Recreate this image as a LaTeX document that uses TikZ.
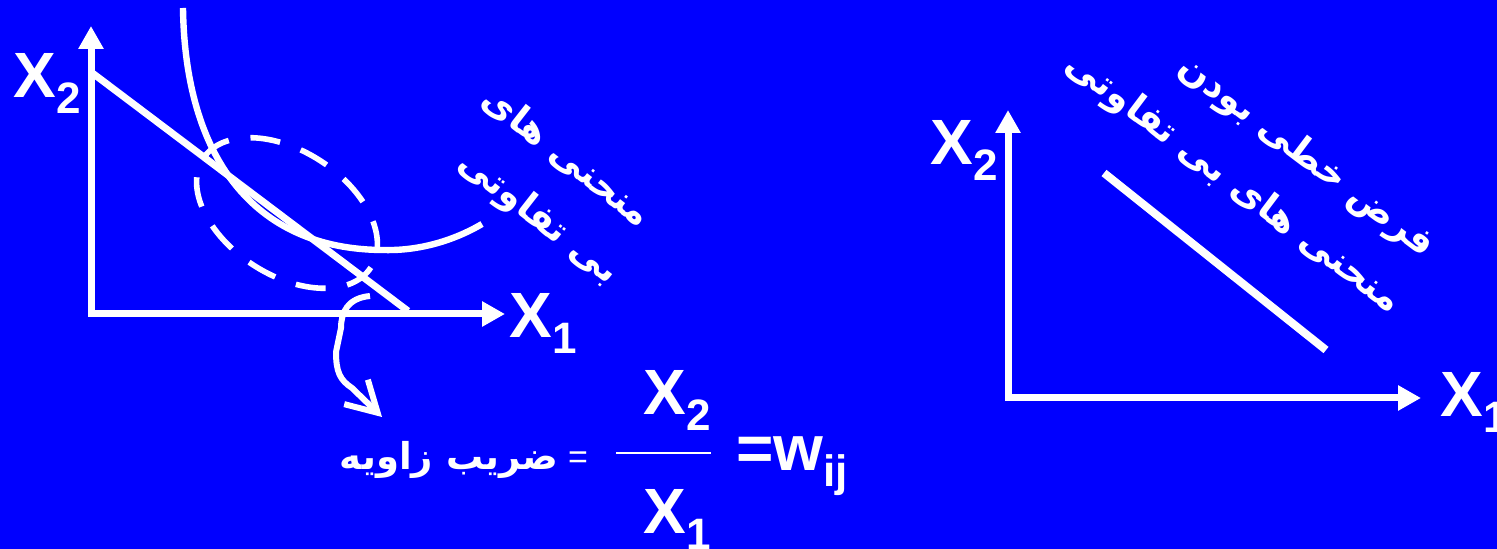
\documentclass[tikz,border=0pt]{standalone}
\usepackage{fontspec}
\setmainfont{Liberation Sans}
\newfontfamily\arabicfont[Script=Arabic]{DejaVu Sans}
\TeXXeTstate=1
\usetikzlibrary{arrows.meta}
\definecolor{slideblue}{RGB}{0,0,255}
\newcommand{\xlab}[1]{\fontsize{32}{32}\selectfont\bfseries X\raisebox{-8pt}{\fontsize{22}{22}\selectfont #1}}
\newcommand{\fa}[1]{{\arabicfont\bfseries\beginR #1\endR}}

\begin{document}
\begin{tikzpicture}[x=0.5pt, y=-0.5pt,
  axis/.style={draw=white, line width=3.5pt, {Triangle[length=11.5pt,width=12pt]}-{Triangle[length=11.5pt,width=12pt]}},
  curve/.style={draw=white, line width=3.2pt},
  label/.style={text=white, inner sep=0pt, anchor=base west},
  farsi/.style={text=white, inner sep=0pt, font=\fontsize{18.5}{18.5}\selectfont}]
  \fill[slideblue] (0,0) rectangle (1497,549);
  \useasboundingbox (0,0) rectangle (1497,549);

  % Left graph: axes
  \coordinate (oL) at (91,314);
  \coordinate (ytipL) at (91,26);
  \coordinate (xtipL) at (505,314);
  \draw[axis] (ytipL) -- (oL) -- (xtipL);
  \node[label] (xtwoL) at (13,98) {\xlab{2}};
  \node[label] (xoneL) at (509,338) {\xlab{1}};

  % Budget line and indifference curve
  \coordinate (budgetA) at (91,72);
  \coordinate (budgetB) at (408,311);
  \draw[curve, line width=3.5pt] (budgetA) -- (budgetB);
  \coordinate (icTop) at (183,8);
  \coordinate (icLow) at (384,250);
  \coordinate (icEnd) at (482,224);
  \draw[curve] (icTop) .. controls (185,155) and (252,250) .. (icLow)
    .. controls (420,251) and (455,240) .. (icEnd);

  % Dashed ellipse round the tangency
  \coordinate (tang) at (287,213);
  \draw[curve, line width=2.8pt, dash pattern=on 15pt off 11pt, rotate around={-33:(tang)}]
    (tang) ellipse [x radius=100, y radius=62];
  \node[farsi, rotate=-38] (icurveA) at (567,157) {\fa{منحنی های}};
  \node[farsi, rotate=-38] (icurveB) at (538,218) {\fa{بی تفاوتی}};

  % Curly pointer to the slope
  \coordinate (ptrStart) at (370,296);
  \coordinate (ptrEnd) at (382,417);
  \draw[curve, line width=3pt, -{Straight Barb[length=15pt,width=17pt]}] (ptrStart)
    .. controls (348,298) and (341,312) .. (341,328) -- (336,352)
    .. controls (336,372) and (340,380) .. (352,388) -- (ptrEnd);

  % Slope formula
  \node[farsi, anchor=base] (slope) at (449,469) {\fa{ضریب زاویه}};
  \node[text=white, inner sep=0pt, font=\fontsize{17}{17}\selectfont] (eqsmall) at (578,460) {=};
  \coordinate (barL) at (616,453);
  \coordinate (barR) at (711,453);
  \draw[white, line width=1pt] (barL) -- (barR);
  \node[label] (numer) at (643,415) {\xlab{2}};
  \node[label] (denom) at (643,533) {\xlab{1}};
  \node[label] (weight) at (736,470) {\fontsize{32}{32}\selectfont\bfseries =w\raisebox{-8.5pt}{\fontsize{22}{22}\selectfont ij}};

  % Right graph: axes and linear indifference curve
  \coordinate (oR) at (1008,398);
  \coordinate (ytipR) at (1008,110);
  \coordinate (xtipR) at (1421,398);
  \draw[axis] (ytipR) -- (oR) -- (xtipR);
  \node[label] (xtwoR) at (930,165) {\xlab{2}};
  \node[label] (xoneR) at (1440,417) {\xlab{1}};
  \coordinate (linA) at (1104,173);
  \coordinate (linB) at (1326,350);
  \draw[curve, line width=4pt] (linA) -- (linB);
  \node[farsi, rotate=-37] (assumeA) at (1306,157) {\fa{فرض خطی بودن}};
  \node[farsi, rotate=-37] (assumeB) at (1233,184) {\fa{منحنی های بی تفاوتی}};
\end{tikzpicture}
\end{document}
